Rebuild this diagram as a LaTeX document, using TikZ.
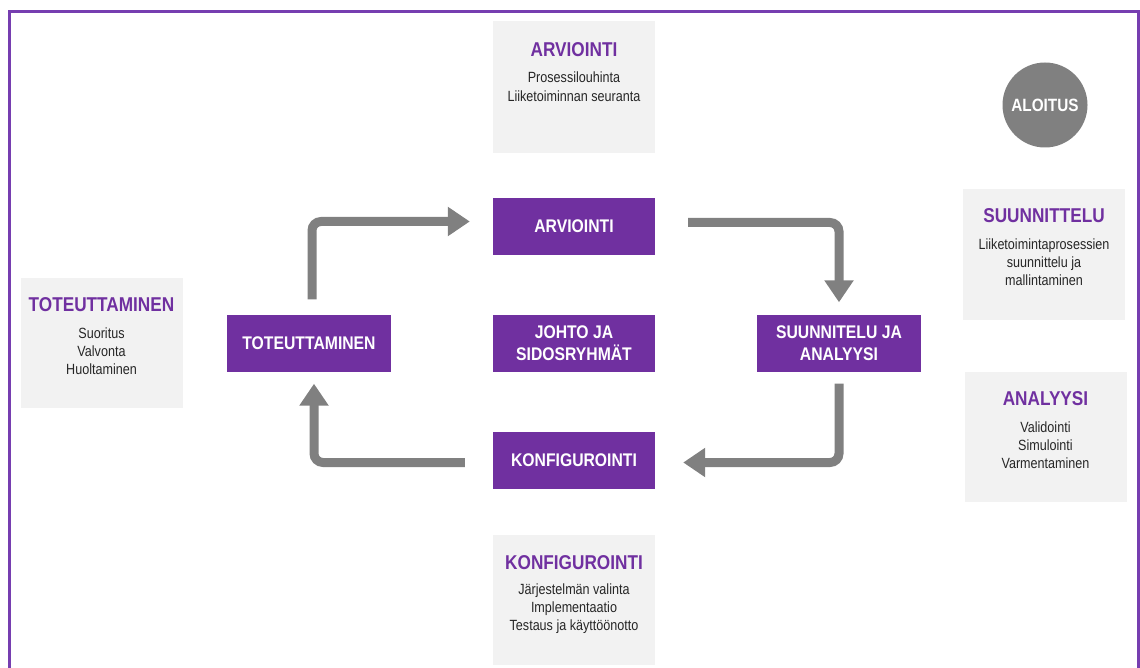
\documentclass[tikz,border=0pt]{standalone}
\usepackage{fontspec}
\setmainfont{Liberation Sans}
\newfontfamily\condfont[FakeStretch=0.86]{Liberation Sans}
\newfontfamily\bodyfont[FakeStretch=0.85]{Liberation Sans}
\usetikzlibrary{arrows.meta}
\definecolor{vio}{RGB}{112,48,160}
\definecolor{framecol}{RGB}{118,62,176}
\definecolor{pale}{RGB}{242,242,242}
\definecolor{arrowgrey}{RGB}{128,128,128}
\tikzset{
 phase/.style={fill=vio, text=white, minimum width=164pt, minimum height=57pt, inner sep=0pt, align=center, font=\condfont\bfseries\fontsize{18.3}{22.5}\selectfont},
 infobox/.style={fill=pale, minimum width=162pt, inner sep=0pt},
 infotitle/.style={text=vio, inner sep=0pt, font=\condfont\bfseries\fontsize{20}{22}\selectfont},
 infobody/.style={inner sep=0pt, align=center, anchor=north, text=black!85, font=\bodyfont\fontsize{14.8}{18}\selectfont},
 flow/.style={draw=arrowgrey, line width=9pt, rounded corners=9pt, -{Triangle[length=22pt,width=28pt]}},
}
\begin{document}
\begin{tikzpicture}[x=1pt,y=-1pt]
\useasboundingbox (0,0) rectangle (1140,668);
\draw[framecol, line width=3pt] (9,12) rectangle (1138,690);

% info boxes
\node[infobox, minimum height=132pt] (gArv) at (574,87) {};
\node[infotitle] (gArvT) at ([yshift=-29pt]gArv.north) {ARVIOINTI};
\node[infobody, font=\bodyfont\fontsize{14.8}{19}\selectfont] (gArvB) at ([yshift=-51pt]gArv.north) {Prosessilouhinta\\Liiketoiminnan seuranta};

\node[infobox, minimum height=131pt] (gSuu) at (1044,254.5) {};
\node[infotitle] (gSuuT) at ([yshift=-27pt]gSuu.north) {SUUNNITTELU};
\node[infobody] (gSuuB) at ([yshift=-50pt]gSuu.north) {Liiketoimintaprosessien\\suunnittelu ja\\mallintaminen};

\node[infobox, minimum height=130pt] (gAna) at (1045.5,437) {};
\node[infotitle] (gAnaT) at ([yshift=-27pt]gAna.north) {ANALYYSI};
\node[infobody] (gAnaB) at ([yshift=-50pt]gAna.north) {Validointi\\Simulointi\\Varmentaminen};

\node[infobox, minimum height=130pt] (gTot) at (101.5,343) {};
\node[infotitle] (gTotT) at ([yshift=-27pt]gTot.north) {TOTEUTTAMINEN};
\node[infobody] (gTotB) at ([yshift=-50pt]gTot.north) {Suoritus\\Valvonta\\Huoltaminen};

\node[infobox, minimum height=130pt] (gKon) at (574,600) {};
\node[infotitle] (gKonT) at ([yshift=-28pt]gKon.north) {KONFIGUROINTI};
\node[infobody] (gKonB) at ([yshift=-49pt]gKon.north) {Järjestelmän valinta\\Implementaatio\\Testaus ja käyttöönotto};

% start circle
\node[circle, fill=arrowgrey, minimum size=85pt, inner sep=0pt, text=white, font=\condfont\bfseries\fontsize{17.8}{20}\selectfont] (start) at (1045,105) {ALOITUS};

% phases
\node[phase, minimum width=162pt] (arvi) at (574,226.5) {ARVIOINTI};
\node[phase, minimum width=162pt] (johto) at (574,343) {JOHTO JA\\SIDOSRYHMÄT};
\node[phase] (tote) at (309,343) {TOTEUTTAMINEN};
\node[phase, minimum width=162pt] (konf) at (574,460.5) {KONFIGUROINTI};
\node[phase] (suun) at (839,343) {SUUNNITELU JA\\ANALYYSI};

% flow arrows
\draw[flow] ([xshift=3pt,yshift=15pt]tote.north) |- ([xshift=-23pt,yshift=5pt]arvi.west);
\draw[flow] ([xshift=33pt,yshift=4pt]arvi.east) -| ([yshift=12pt]suun.north);
\draw[flow] ([yshift=-12pt]suun.south) |- ([xshift=28pt,yshift=-2pt]konf.east);
\draw[flow] ([xshift=-28pt,yshift=-2pt]konf.west) -| ([xshift=5pt,yshift=-12pt]tote.south);
\end{tikzpicture}
\end{document}
